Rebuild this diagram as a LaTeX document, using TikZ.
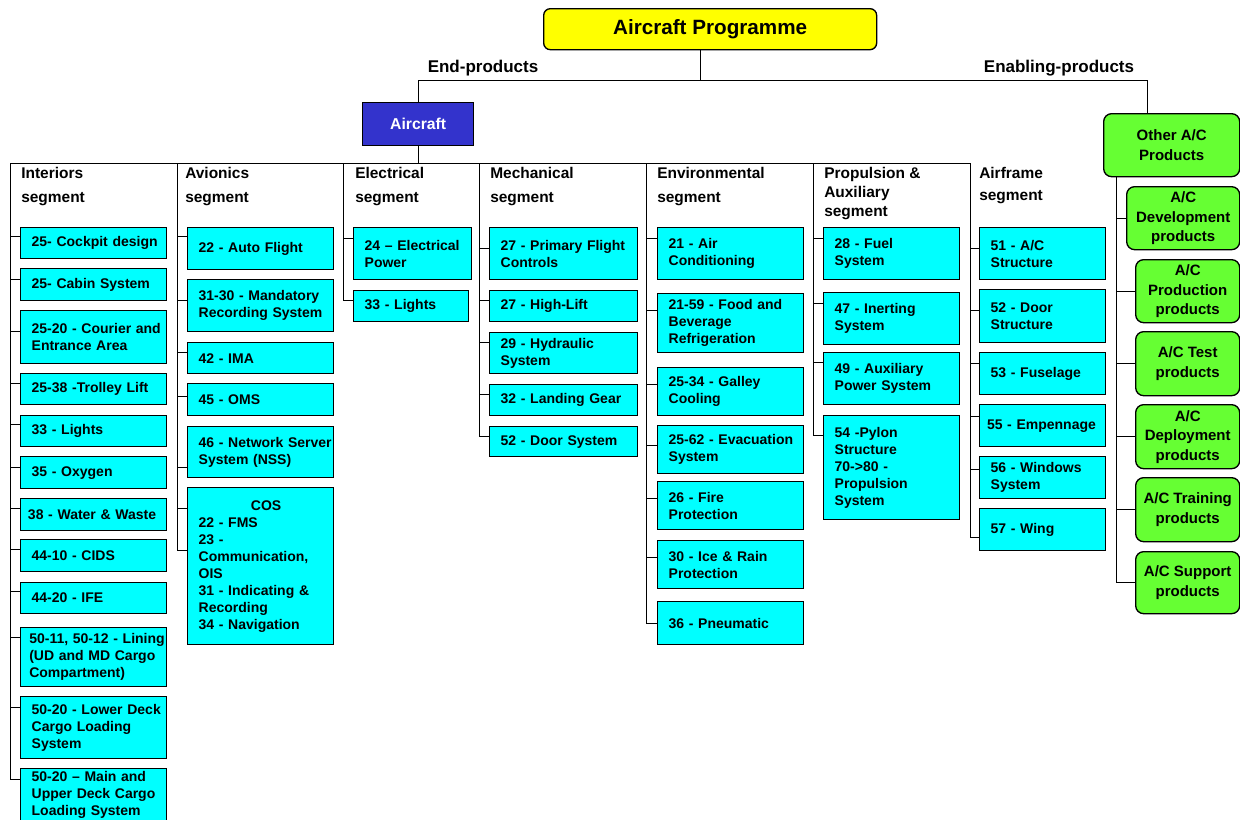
\documentclass[tikz,border=0pt]{standalone}
\usepackage{fontspec}
\setmainfont{Liberation Sans}
\definecolor{sysCyan}{HTML}{00FFFF}
\definecolor{progYellow}{HTML}{FFFF00}
\definecolor{acBlue}{HTML}{3333CC}
\definecolor{prodGreen}{HTML}{66FF33}
\tikzset{
  wire/.style={line width=0.75pt},
  progbox/.style={draw, line width=1pt, fill=progYellow, rounded corners=5pt, anchor=north west,
    minimum width=249.75pt, minimum height=30.75pt, font=\fontsize{15.5}{18}\selectfont\bfseries},
  acbox/.style={draw, line width=1pt, fill=acBlue, text=white, anchor=north west,
    minimum width=83.25pt, minimum height=32.25pt, font=\fontsize{11.8}{14}\selectfont\bfseries},
  lbl/.style={inner sep=0pt, font=\fontsize{12.75}{15}\selectfont\bfseries},
  seghead/.style={anchor=north west, inner sep=0pt, align=left, font=\fontsize{11.6}{18}\selectfont\bfseries},
  prodbox/.style={draw, line width=1pt, fill=prodGreen, rounded corners=6pt, anchor=north west,
    align=center, inner sep=1pt, font=\fontsize{11.25}{14.6}\selectfont\bfseries},
  sysbox/.style={draw, line width=1pt, fill=sysCyan, anchor=north west, inner xsep=0pt, inner ysep=1pt,
    font=\fontsize{10.5}{12.75}\selectfont\bfseries,
    execute at begin node={\raggedright\leftskip=8.25pt\relax}},
  tightleft/.style={execute at begin node={\leftskip=#1\relax}},
  tightleft/.default=5.5pt,
  colint/.style={sysbox, text width=109.5pt},
  colav/.style={sysbox, text width=109.5pt},
  colel/.style={sysbox, text width=88.5pt},
  colme/.style={sysbox, text width=111pt},
  colen/.style={sysbox, text width=109.5pt},
  colpr/.style={sysbox, text width=102pt},
  colaf/.style={sysbox, text width=94.5pt},
}
\begin{document}
\begin{tikzpicture}[x=0.75pt,y=-0.75pt]
\useasboundingbox (0,0) rectangle (1240,819);
            % Top level
\node[progbox] (prog) at (543,8) {Aircraft Programme};
\node[acbox] (aircraft) at (362,102) {Aircraft};
\node[lbl] (endp) at (483,68) {End-products};
\node[lbl] (enabp) at (1059,68) {Enabling-products};
\coordinate (pj) at (700,80);
\coordinate (ej) at (1147,80);
            % Segment headers
\node[seghead] (hint) at (21,167) {Interiors\\segment};
\node[seghead] (hav) at (185,167) {Avionics\\segment};
\node[seghead] (hel) at (355,167) {Electrical\\segment};
\node[seghead] (hme) at (490,167) {Mechanical\\segment};
\node[seghead] (hen) at (657,167) {Environmental\\segment};
\node[seghead, font=\fontsize{11.6}{14.25}\selectfont\bfseries] (hpr) at (824,167) {Propulsion \&\\Auxiliary\\segment};
\node[seghead, font=\fontsize{11.6}{16.5}\selectfont\bfseries] (haf) at (979,167) {Airframe\\segment};
\coordinate (s1) at (10,163);
\coordinate (s2) at (177,163);
\coordinate (s3) at (343,163);
\coordinate (s4) at (479,163);
\coordinate (s5) at (646,163);
\coordinate (s6) at (813,163);
\coordinate (s7) at (970,163);
            % Interiors
\node[colint, minimum height=23.25pt] (int1) at (20,227) {25- Cockpit design};
\node[colint, minimum height=24pt] (int2) at (20,268) {25- Cabin System};
\node[colint, minimum height=39.75pt] (int3) at (20,310) {25-20 - Courier and\\Entrance Area};
\node[colint, minimum height=23.25pt] (int4) at (20,373) {25-38 -Trolley Lift};
\node[colint, minimum height=23.25pt] (int5) at (20,415) {33 - Lights};
\node[colint, minimum height=24pt] (int6) at (20,456) {35 - Oxygen};
\node[colint, tightleft, minimum height=24pt] (int7) at (20,498) {38 - Water \& Waste};
\node[colint, minimum height=24pt] (int8) at (20,539) {44-10 - CIDS};
\node[colint, minimum height=23.25pt] (int9) at (20,582) {44-20 - IFE};
\node[colint, tightleft=6.5pt, minimum height=44.25pt] (int10) at (20,627) {\mbox{50-11, 50-12 - Lining}\\(UD and MD Cargo\\Compartment)};
\node[colint, minimum height=46.5pt] (int11) at (20,696) {50-20 - Lower Deck\\Cargo Loading\\System};
\node[colint, minimum height=39pt] (int12) at (20,768) {50-20 -- Main and\\Upper Deck Cargo\\Loading System};
            % Avionics
\node[colav, minimum height=31.5pt] (av1) at (187,227) {22 - Auto Flight};
\node[colav, minimum height=39pt] (av2) at (187,279) {31-30 - Mandatory\\Recording System};
\node[colav, minimum height=23.25pt] (av3) at (187,342) {42 - IMA};
\node[colav, minimum height=24pt] (av4) at (187,383) {45 - OMS};
\node[colav, minimum height=38.25pt] (av5) at (187,426) {46 - Network Server\\System (NSS)};
\node[colav, minimum height=117.75pt] (av6) at (187,487) {\hspace*{\fill}COS\hspace*{\fill}\null\\22 - FMS\\23 -\\Communication,\\OIS\\31 - Indicating \&\\Recording\\34 - Navigation};
            % Electrical
\node[colel, minimum height=39pt] (el1) at (353,227) {24 -- Electrical\\Power};
\node[colel, text width=86.25pt, minimum height=23.25pt] (el2) at (353,290) {33 - Lights};
            % Mechanical
\node[colme, minimum height=39pt] (me1) at (489,227) {27 - Primary Flight\\Controls};
\node[colme, minimum height=23.25pt] (me2) at (489,290) {27 - High-Lift};
\node[colme, minimum height=30.75pt] (me3) at (489,332) {29 - Hydraulic\\System};
\node[colme, minimum height=23.25pt] (me4) at (489,384) {32 - Landing Gear};
\node[colme, minimum height=22.5pt] (me5) at (489,426) {52 - Door System};
            % Environmental
\node[colen, minimum height=39pt] (en1) at (657,227) {21 - Air\\Conditioning};
\node[colen, minimum height=44.25pt] (en2) at (657,293) {21-59 - Food and\\Beverage\\Refrigeration};
\node[colen, minimum height=36pt] (en3) at (657,367) {25-34 - Galley\\Cooling};
\node[colen, minimum height=36pt] (en4) at (657,425) {25-62 - Evacuation\\System};
\node[colen, minimum height=36pt] (en5) at (657,481) {26 - Fire\\Protection};
\node[colen, minimum height=36pt] (en6) at (657,540) {30 - Ice \& Rain\\Protection};
\node[colen, minimum height=32.25pt] (en7) at (657,601) {36 - Pneumatic};
            % Propulsion & Auxiliary
\node[colpr, minimum height=39pt] (pr1) at (823,227) {28 - Fuel\\System};
\node[colpr, minimum height=39pt] (pr2) at (823,292) {47 - Inerting\\System};
\node[colpr, minimum height=39pt] (pr3) at (823,352) {49 - Auxiliary\\Power System};
\node[colpr, minimum height=78pt] (pr4) at (823,415) {54 -Pylon\\Structure\\70->80 -\\Propulsion\\System};
            % Airframe
\node[colaf, minimum height=39pt] (af1) at (979,227) {51 - A/C\\Structure};
\node[colaf, minimum height=39.75pt] (af2) at (979,289) {52 - Door\\Structure};
\node[colaf, minimum height=31.5pt] (af3) at (979,352) {53 - Fuselage};
\node[colaf, tightleft, minimum height=31.5pt] (af4) at (979,404) {55 - Empennage};
\node[colaf, minimum height=31.5pt] (af5) at (979,456) {56 - Windows\\System};
\node[colaf, minimum height=31.5pt] (af6) at (979,508) {57 - Wing};
            % Enabling products
\node[prodbox, minimum width=102pt, minimum height=47.25pt] (other) at (1103,113) {Other A/C\\Products};
\node[prodbox, minimum width=84.75pt, minimum height=47.25pt] (gdev) at (1126,186) {A/C\\Development\\products};
\node[prodbox, minimum width=78pt, minimum height=47.25pt] (gprod) at (1135,259) {A/C\\Production\\products};
\node[prodbox, minimum width=78pt, minimum height=48pt] (gtest) at (1135,331) {A/C Test\\products};
\node[prodbox, minimum width=78pt, minimum height=48pt] (gdep) at (1135,404) {A/C\\Deployment\\products};
\node[prodbox, minimum width=78pt, minimum height=48pt] (gtrain) at (1135,477) {A/C Training\\products};
\node[prodbox, minimum width=78pt, minimum height=46.5pt] (gsupp) at (1135,551) {A/C Support\\products};
\coordinate (gs) at (1116,176);
            %Tree
\draw[wire] (prog.south -| pj) -- (pj);
\draw[wire] (aircraft.north) |- (ej) -- (ej |- other.north);
\draw[wire] (aircraft.south) -- (aircraft.south |- s1);
\draw[wire] (s1) -- (s7);
            %Interiors
\draw[wire] (s1) |- ([yshift=-6.75pt]int1.north west);
\draw[wire] (s1) |- ([yshift=-8.25pt]int2.north west);
\draw[wire] (s1) |- ([yshift=-15.75pt]int3.north west);
\draw[wire] (s1) |- ([yshift=-7.5pt]int4.north west);
\draw[wire] (s1) |- ([yshift=-6.75pt]int5.north west);
\draw[wire] (s1) |- ([yshift=-8.25pt]int6.north west);
\draw[wire] (s1) |- ([yshift=-7.5pt]int7.north west);
\draw[wire] (s1) |- ([yshift=-7.5pt]int8.north west);
\draw[wire] (s1) |- ([yshift=-6.75pt]int9.north west);
\draw[wire] (s1) |- ([yshift=-7.5pt]int10.north west);
\draw[wire] (s1) |- ([yshift=-8.25pt]int11.north west);
\draw[wire] (s1) |- ([yshift=-8.25pt]int12.north west);
            %Avionics
\draw[wire] (s2) |- ([yshift=-6.75pt]av1.north west);
\draw[wire] (s2) |- ([yshift=-15.75pt]av2.north west);
\draw[wire] (s2) |- ([yshift=-7.5pt]av3.north west);
\draw[wire] (s2) |- ([yshift=-9.75pt]av4.north west);
\draw[wire] (s2) |- ([yshift=-30.75pt]av5.north west);
\draw[wire] (s2) |- ([yshift=-15.75pt]av6.north west);
\draw[wire] (s2) |- ([yshift=-47.25pt]av6.north west);
            %Electrical
\draw[wire] (s3) |- ([yshift=-8.25pt]el1.north west);
\draw[wire] (s3) |- ([yshift=-7.5pt]el2.north west);
            %Mechanical
\draw[wire] (s4) |- ([yshift=-15.75pt]me1.north west);
\draw[wire] (s4) |- ([yshift=-7.5pt]me2.north west);
\draw[wire] (s4) |- ([yshift=-7.5pt]me3.north west);
\draw[wire] (s4) |- ([yshift=-7.5pt]me4.north west);
\draw[wire] (s4) |- ([yshift=-7.5pt]me5.north west);
            %Environmental
\draw[wire] (s5) |- ([yshift=-8.25pt]en1.north west);
\draw[wire] (s5) |- ([yshift=-12.75pt]en2.north west);
\draw[wire] (s5) |- ([yshift=-12.75pt]en3.north west);
\draw[wire] (s5) |- ([yshift=-15pt]en4.north west);
\draw[wire] (s5) |- ([yshift=-12.75pt]en5.north west);
\draw[wire] (s5) |- ([yshift=-12.75pt]en6.north west);
\draw[wire] (s5) |- ([yshift=-16.5pt]en7.north west);
            %Propulsion
\draw[wire] (s6) |- ([yshift=-8.25pt]pr1.north west);
\draw[wire] (s6) |- ([yshift=-8.25pt]pr2.north west);
\draw[wire] (s6) |- ([yshift=-7.5pt]pr3.north west);
\draw[wire] (s6) |- ([yshift=-15pt]pr4.north west);
            %Airframe
\draw[wire] (s7) |- ([yshift=-15.75pt]af1.north west);
\draw[wire] (s7) |- ([yshift=-15.75pt]af2.north west);
\draw[wire] (s7) |- ([yshift=-8.25pt]af3.north west);
\draw[wire] (s7) |- ([yshift=-9pt]af4.north west);
\draw[wire] (s7) |- ([yshift=-9.75pt]af5.north west);
\draw[wire] (s7) |- ([yshift=-21.75pt]af6.north west);
            %Enabling
\draw[wire] (gs) |- (gdev.west);
\draw[wire] (gs) |- (gprod.west);
\draw[wire] (gs) |- (gtest.west);
\draw[wire] (gs) |- (gdep.west);
\draw[wire] (gs) |- (gtrain.west);
\draw[wire] (gs) |- (gsupp.west);
\end{tikzpicture}
\end{document}
